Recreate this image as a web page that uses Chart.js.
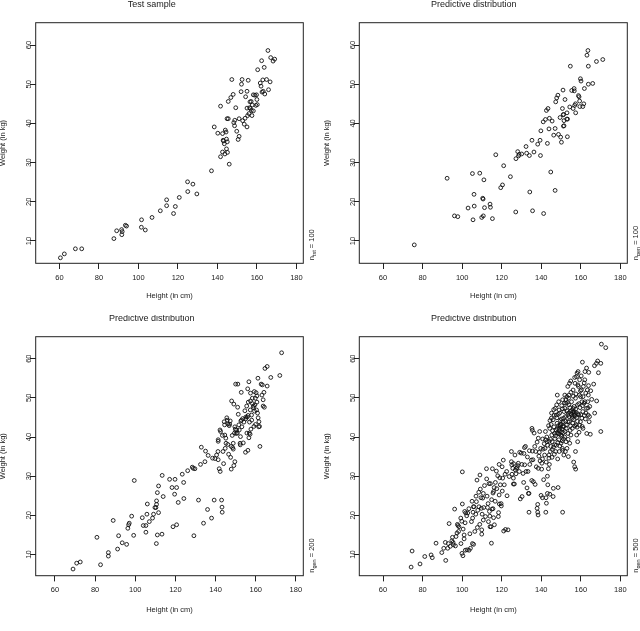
<!DOCTYPE html>
<html lang="en">
<head>
  <meta charset="UTF-8">
  <title>Height vs weight</title>
  <script src="https://cdn.jsdelivr.net/npm/chart.js"></script>
  <style>
    body { margin: 0; background: #fff; }
    #wrap { position: relative; width: 640px; height: 631px; }
    canvas { position: absolute; }
  </style>
</head>
<body>
<div id="wrap">
  <canvas id="p1" width="320" height="315" style="left:0;top:0"></canvas>
  <canvas id="p2" width="320" height="315" style="left:320px;top:0"></canvas>
  <canvas id="p3" width="320" height="316" style="left:0;top:315px"></canvas>
  <canvas id="p4" width="320" height="316" style="left:320px;top:315px"></canvas>
</div>
<script>
// tick labels
const xTicks = [60, 80, 100, 120, 140, 160, 180];
const yTicks = [10, 20, 30, 40, 50, 60];

// [height cm, weight kg]
const testSample = [[60.5,5.7],[62.5,6.7],[68.1,8.0],[71.3,8.0],[87.6,10.6],[89.0,12.6],[91.5,12.9],[91.6,11.6],[91.8,12.4],[93.4,14.0],[94.0,13.8],[101.6,15.4],[101.5,13.5],[103.5,12.8],[106.9,16.0],[111.1,17.7],[114.3,20.5],[114.3,19.0],[117.8,17.0],[118.7,18.8],[120.7,21.1],[124.9,25.1],[125.0,22.6],[127.6,24.5],[129.6,22.0],[137.0,27.9],[138.4,39.1],[140.2,37.5],[141.6,44.4],[141.6,31.5],[142.6,32.7],[142.9,35.7],[142.6,37.4],[143.1,35.5],[143.5,34.8],[143.8,32.2],[144.0,38.3],[144.6,33.5],[144.6,36.0],[145.0,35.3],[144.9,41.2],[145.5,41.2],[145.1,32.6],[144.4,37.8],[145.5,45.6],[146.0,29.6],[146.8,46.6],[147.3,51.2],[148.0,47.4],[148.3,40.2],[148.7,39.4],[148.8,40.8],[149.3,44.0],[149.8,38.0],[150.5,35.9],[151.0,36.7],[151.0,41.2],[152.0,48.1],[152.2,50.0],[152.5,51.2],[152.8,40.7],[153.6,39.8],[154.0,41.3],[154.3,46.8],[155.0,48.2],[155.0,39.1],[155.0,43.9],[155.3,42.0],[155.6,51.0],[156.0,42.5],[156.3,44.0],[156.7,43.8],[156.5,45.5],[157.1,45.6],[157.2,43.3],[157.5,42.0],[157.7,44.7],[158.2,43.2],[158.2,47.3],[159.0,47.2],[159.5,44.6],[159.8,47.3],[160.2,44.8],[160.0,46.1],[160.4,53.7],[161.7,50.3],[162.1,49.5],[162.4,56.0],[162.6,48.0],[163.0,51.1],[163.2,48.2],[163.7,54.3],[164.0,47.5],[164.9,51.2],[165.6,58.6],[165.9,48.6],[166.7,50.6],[167.0,56.8],[168.2,55.9],[169.0,56.4]];

const gen100 = [[75.8,9.0],[92.4,26.0],[96.1,16.4],[97.8,16.2],[103.0,18.4],[105.2,27.2],[105.5,15.4],[106.0,21.9],[106.1,18.9],[108.9,27.3],[109.9,16.0],[110.4,20.9],[110.6,20.7],[110.7,16.4],[111.0,25.6],[111.3,18.5],[114.1,19.4],[114.3,18.6],[115.3,15.7],[117.0,32.0],[119.5,23.6],[120.4,24.3],[121.0,29.2],[124.4,26.4],[127.1,17.4],[127.2,31.0],[128.1,32.8],[128.5,31.7],[128.8,32.1],[130.1,32.2],[132.3,34.1],[132.6,32.4],[134.0,31.8],[134.2,22.5],[135.3,35.7],[135.6,17.7],[136.3,32.7],[138.2,34.7],[139.4,35.7],[139.6,31.8],[139.8,38.1],[141.2,17.0],[141.0,40.4],[142.1,41.0],[142.6,43.3],[143.1,34.9],[143.4,43.8],[143.9,38.6],[144.1,41.3],[144.8,27.6],[145.5,40.6],[146.3,37.0],[147.0,22.9],[147.0,38.7],[147.3,45.5],[147.8,46.5],[148.4,47.2],[148.7,37.2],[149.5,41.5],[149.8,36.5],[150.2,35.2],[150.7,43.8],[151.0,48.5],[151.1,42.2],[151.3,42.3],[151.2,39.3],[151.5,39.4],[151.5,40.7],[152.0,46.1],[152.9,41.1],[153.3,41.1],[153.0,42.7],[153.2,36.6],[154.4,44.2],[154.7,54.6],[155.4,48.4],[156.1,43.8],[156.6,48.9],[156.7,48.3],[156.9,44.6],[157.3,45.0],[157.4,42.7],[158.8,47.1],[159.1,46.8],[159.5,44.3],[159.8,51.4],[160.1,50.8],[159.4,45.7],[161.0,44.3],[161.5,45.0],[161.8,48.9],[163.1,57.4],[163.6,58.6],[163.8,54.6],[163.8,50.0],[166.0,50.2],[167.9,55.8],[171.1,56.3]];

const gen200 = [[69.0,6.3],[70.8,7.8],[72.6,8.1],[82.7,7.4],[80.9,14.4],[86.6,10.5],[86.6,9.6],[89.0,18.7],[91.7,14.8],[91.2,11.4],[93.5,13.0],[95.7,12.6],[96.3,16.7],[96.7,17.6],[97.0,18.0],[98.2,19.8],[99.2,14.9],[99.5,28.9],[103.5,19.4],[104.0,17.4],[105.3,17.4],[105.3,15.7],[106.0,22.9],[105.8,20.3],[107.0,18.4],[108.6,19.3],[109.1,20.3],[109.8,22.0],[110.3,22.0],[110.6,23.7],[110.6,22.8],[110.5,12.8],[111.0,15.0],[111.0,25.8],[111.6,27.5],[111.6,20.7],[113.3,15.2],[113.4,30.2],[113.9,24.8],[117.1,29.2],[118.3,27.1],[118.8,17.1],[119.6,25.4],[119.8,29.2],[120.6,27.1],[120.6,17.6],[121.4,23.3],[123.4,30.5],[124.1,28.4],[124.2,24.3],[126.1,31.4],[128.4,32.3],[128.9,32.0],[129.7,31.9],[129.2,14.8],[131.5,23.9],[132.5,33.0],[132.9,37.4],[134.0,18.0],[134.7,33.7],[135.0,36.4],[136.0,21.5],[136.3,35.3],[138.0,19.3],[138.5,34.6],[139.3,23.9],[139.7,34.5],[140.5,35.4],[141.2,36.3],[141.3,39.3],[141.3,38.9],[141.3,34.2],[141.8,31.9],[142.3,31.2],[142.2,41.8],[142.5,41.4],[143.0,23.9],[143.2,22.1],[143.3,20.8],[143.7,36.3],[144.0,33.2],[144.3,43.9],[144.5,43.1],[144.6,40.5],[144.8,37.1],[145.1,39.7],[145.6,44.9],[145.8,44.3],[146.1,43.3],[146.1,38.1],[146.5,35.6],[147.0,43.3],[147.3,44.1],[147.5,34.8],[147.8,31.8],[148.0,49.2],[148.3,40.4],[148.5,37.3],[148.8,38.4],[148.8,36.9],[149.1,48.4],[149.6,42.6],[149.8,42.0],[149.1,32.7],[149.6,33.7],[150.0,53.5],[151.1,53.5],[150.5,41.8],[150.8,41.0],[151.0,47.6],[151.3,45.8],[151.6,43.1],[151.8,41.8],[152.2,38.4],[152.3,38.0],[152.4,40.1],[152.8,51.4],[152.6,44.1],[153.1,42.6],[153.8,38.5],[154.1,43.8],[154.6,46.7],[154.9,36.1],[155.1,45.1],[155.8,45.1],[156.0,52.3],[156.1,36.6],[155.6,41.0],[156.3,48.9],[156.6,39.8],[156.8,41.0],[156.6,54.1],[156.9,43.8],[157.3,46.9],[157.4,49.2],[157.4,51.2],[157.6,42.0],[157.9,45.6],[158.3,49.9],[158.4,48.5],[158.8,47.5],[159.3,51.6],[159.1,42.7],[159.6,48.2],[159.8,49.9],[159.9,43.2],[160.2,51.3],[160.6,48.9],[160.9,46.1],[161.1,55.0],[161.2,44.9],[161.6,43.9],[161.9,42.7],[162.1,37.6],[162.7,53.5],[163.1,50.7],[163.7,49.5],[163.7,47.9],[164.1,51.4],[164.6,57.5],[165.7,58.0],[165.7,53.0],[167.5,55.2],[172.0,55.7],[172.9,61.5],[150.3,40.9],[153.5,44.7],[155.0,44.6],[156.2,45.5],[158.9,47.9],[159.4,46.6],[160.4,46.9],[157.2,40.7],[161.5,42.6],[149.4,41.0],[147.8,37.6],[145.2,38.4],[143.4,40.4],[146.8,42.9],[152.9,44.3],[155.5,47.9],[158.0,44.3],[160.6,50.5],[163.3,53.3],[164.3,47.6]];

const gen500 = [[74.2,6.8],[74.7,10.9],[78.7,7.6],[81.1,9.5],[84.3,9.9],[84.9,9.2],[86.8,12.9],[89.7,10.5],[91.7,8.5],[91.5,13.1],[90.7,11.6],[93.0,12.8],[92.7,11.6],[94.0,12.1],[93.4,17.9],[95.1,14.4],[95.4,13.1],[95.6,12.5],[96.2,21.6],[96.6,12.2],[97.6,17.7],[97.9,17.4],[98.4,17.1],[97.4,15.5],[99.3,19.3],[99.4,12.8],[99.9,10.3],[100.4,9.7],[100.1,22.9],[100.1,31.1],[100.5,16.5],[101.0,15.0],[101.0,14.0],[101.3,21.0],[101.8,20.6],[101.6,11.1],[102.5,11.2],[102.3,19.9],[102.8,20.6],[103.5,11.1],[104.2,11.6],[104.7,18.4],[105.2,12.8],[105.8,12.6],[105.3,19.3],[105.5,20.8],[105.7,22.2],[106.0,22.2],[106.4,15.9],[106.9,20.3],[107.2,23.5],[107.9,21.3],[107.5,29.0],[108.4,25.9],[108.5,22.2],[108.9,17.7],[109.0,30.3],[109.5,24.5],[109.7,21.8],[109.9,16.3],[109.9,15.2],[110.1,20.3],[110.4,24.4],[110.7,25.6],[110.9,22.0],[110.7,18.8],[112.3,31.9],[112.4,29.3],[112.8,22.0],[113.1,23.0],[113.3,18.4],[113.6,28.1],[114.3,28.1],[114.0,19.8],[114.1,17.1],[114.6,17.1],[114.8,12.9],[115.1,21.6],[115.3,31.9],[115.6,25.7],[115.9,26.1],[115.6,21.7],[115.9,19.4],[116.3,17.6],[116.8,28.4],[117.3,31.3],[117.5,26.8],[118.3,19.7],[118.7,33.0],[118.7,25.2],[118.8,22.9],[119.0,29.6],[119.3,27.8],[119.7,23.0],[119.8,22.4],[120.3,26.2],[120.5,29.5],[120.8,34.1],[121.0,16.0],[121.3,27.8],[121.7,30.5],[121.9,16.4],[123.2,16.3],[122.7,25.0],[124.9,36.3],[124.9,33.7],[125.1,32.9],[125.2,30.5],[125.6,32.0],[125.9,28.0],[125.9,29.5],[126.7,35.4],[126.9,31.6],[127.4,32.0],[126.4,28.0],[127.8,32.2],[128.1,32.7],[128.4,33.3],[129.1,36.1],[129.4,24.2],[129.9,35.9],[130.3,24.8],[130.8,30.7],[131.1,28.4],[131.5,37.3],[132.0,37.6],[131.6,32.9],[132.3,31.2],[132.8,27.0],[133.3,31.2],[133.5,25.6],[133.8,25.6],[133.8,20.8],[134.2,33.0],[135.0,34.1],[135.2,28.9],[135.3,42.2],[135.5,41.7],[135.5,36.4],[135.8,34.2],[136.0,28.6],[136.4,41.0],[136.7,37.6],[136.9,27.9],[137.2,36.3],[137.5,32.4],[137.9,21.8],[138.2,20.8],[138.2,22.8],[138.4,20.1],[137.9,38.7],[138.5,39.7],[138.5,32.0],[139.0,36.1],[139.2,41.4],[139.7,37.1],[139.9,25.1],[140.6,24.5],[140.2,31.8],[140.6,34.4],[140.7,39.5],[141.2,29.1],[141.7,35.4],[141.9,37.1],[142.1,41.4],[142.3,20.8],[142.4,24.5],[142.6,23.1],[142.9,38.8],[143.1,25.6],[143.1,30.0],[143.3,27.8],[143.6,31.9],[143.9,35.4],[143.9,34.6],[144.3,42.2],[144.3,25.4],[144.6,36.3],[144.8,37.6],[145.1,44.8],[145.3,40.5],[146.0,24.8],[145.5,38.8],[146.0,44.4],[146.1,26.9],[146.5,45.6],[146.7,40.9],[146.8,38.0],[147.1,47.3],[147.3,36.3],[147.5,41.8],[147.6,45.6],[147.8,48.2],[148.1,50.7],[148.0,43.5],[148.3,34.4],[148.5,27.1],[148.6,40.9],[148.8,49.0],[148.9,39.3],[149.1,36.3],[149.3,42.2],[149.3,46.1],[149.6,43.1],[149.8,40.5],[150.0,38.4],[150.2,44.6],[150.3,48.0],[150.5,42.0],[150.7,37.1],[150.8,20.8],[150.8,49.5],[151.0,43.9],[151.2,39.5],[151.4,35.4],[151.5,46.5],[151.9,50.7],[152.0,41.4],[152.2,45.2],[152.4,48.6],[152.5,38.8],[152.7,43.1],[152.9,50.3],[153.0,37.1],[153.4,52.9],[153.4,45.6],[153.5,40.9],[153.7,35.0],[154.0,48.2],[154.0,50.7],[154.2,43.9],[154.4,38.4],[154.7,46.5],[154.9,54.3],[155.0,40.5],[155.3,49.0],[155.6,44.8],[155.7,42.2],[156.1,52.0],[156.2,47.3],[156.4,33.6],[156.6,46.5],[156.7,45.6],[156.9,32.4],[157.1,53.7],[157.3,49.9],[157.3,36.3],[157.4,31.8],[157.6,43.1],[157.8,55.4],[157.9,40.5],[158.1,56.3],[158.3,48.2],[158.4,38.8],[158.6,56.7],[158.8,52.9],[158.9,45.6],[159.1,41.2],[159.3,50.7],[159.4,54.6],[159.8,43.9],[159.9,50.3],[160.3,52.0],[160.5,44.8],[160.6,49.0],[160.8,59.1],[161.0,46.5],[161.1,42.2],[161.3,52.9],[161.6,48.6],[162.0,54.6],[162.1,56.7],[162.1,49.0],[162.3,44.6],[162.5,51.2],[162.8,47.3],[163.0,40.9],[163.3,52.0],[163.5,49.0],[163.7,45.6],[163.8,50.7],[164.0,56.5],[164.2,43.9],[164.5,47.8],[164.8,40.7],[165.0,51.8],[166.5,53.5],[167.0,46.1],[166.9,58.2],[167.9,58.8],[168.0,49.2],[168.5,59.4],[168.9,56.4],[170.1,58.8],[170.1,41.4],[170.4,63.7],[172.6,62.8],[143.2,37.9],[144.0,38.9],[144.7,39.4],[145.6,36.8],[146.2,37.4],[146.9,39.6],[147.2,40.3],[147.9,41.0],[148.2,42.1],[148.7,42.9],[149.0,40.8],[149.2,41.7],[149.5,42.9],[149.7,44.2],[150.0,43.3],[150.2,41.3],[150.4,40.2],[150.6,39.0],[150.9,42.6],[151.1,41.1],[151.3,44.8],[151.6,42.7],[151.8,40.0],[152.0,47.3],[152.3,44.0],[152.6,42.2],[152.9,46.7],[153.2,48.8],[153.5,43.9],[153.8,46.1],[154.1,45.2],[154.5,47.5],[154.8,42.8],[155.1,45.9],[155.4,46.8],[155.7,45.3],[156.0,46.4],[156.3,44.4],[156.6,47.8],[156.8,46.0],[157.1,45.4],[157.4,47.1],[157.7,46.2],[158.0,45.0],[158.3,44.0],[158.6,45.9],[159.0,48.5],[159.6,47.5],[160.0,45.7],[160.9,48.0],[146.4,42.6],[145.7,41.6],[145.0,43.2],[144.4,44.2],[143.7,42.9],[142.8,40.0],[142.2,39.3],[141.5,38.3],[140.9,36.9],[140.3,33.3],[139.4,33.9],[138.8,35.1],[142.5,33.6],[144.1,33.0],[145.4,34.8],[146.6,35.6],[147.6,37.9],[148.4,38.6],[149.4,37.7],[150.8,36.6],[152.2,36.3],[153.6,39.4],[154.6,41.7],[155.9,43.6],[157.0,42.8],[158.1,42.5],[159.4,43.0],[160.7,42.7],[161.8,45.5],[162.6,46.1],[163.6,47.4],[164.4,45.2],[165.5,49.6],[161.1,50.3],[159.8,51.8],[158.5,53.3],[157.5,51.0],[156.2,50.4],[155.0,51.4],[153.8,49.9],[152.5,49.5],[150.7,47.2],[149.0,46.9],[147.9,44.9],[146.3,47.0],[145.2,46.1],[148.6,45.8],[151.7,48.7],[154.3,53.7],[156.9,55.2],[160.2,55.6],[161.7,53.8],[163.9,53.1],[162.9,57.6],[122.5,31.2],[123.8,29.9],[126.0,33.2],[127.2,30.6],[128.9,31.2],[130.2,33.0],[131.2,35.8],[133.0,34.9],[134.0,36.5],[120.2,32.4],[118.0,30.1],[116.2,27.1],[114.9,24.0],[112.6,24.9],[111.3,27.6],[109.2,26.7],[107.0,24.9],[105.0,23.6],[103.4,21.7],[101.5,18.1],[99.8,18.5],[98.2,15.9],[96.9,14.6],[94.8,13.5],[111.8,19.7],[113.8,21.0],[116.7,23.6],[118.4,20.7],[103.9,15.3],[107.7,16.9]];

const panels = [
  { id: 'p1', title: 'Test sample', pts: testSample, sub: 'tst', n: 100, xlim: [48, 183.5], ylim: [4.3, 65.7], box: [35.7, 303.3, 22.7, 263.3], tTop: -0.7, xTitlePad: 14.8, yTitlePad: -1.8 },
  { id: 'p2', title: 'Predictive distribution', pts: gen100, sub: 'gen', n: 100, xlim: [48, 183.5], ylim: [4.3, 65.7], box: [39.3, 307.3, 22.7, 263.3], tTop: -0.7, xTitlePad: 14.8, yTitlePad: 2.2 },
  { id: 'p3', title: 'Predictive distribution', pts: gen200, sub: 'gen', n: 200, xlim: [50.4, 183.7], ylim: [4.6, 65.6], box: [35.7, 303.3, 21.7, 260.7], tTop: -2.1, xTitlePad: 17, yTitlePad: -1.8 },
  { id: 'p4', title: 'Predictive distribution', pts: gen500, sub: 'gen', n: 500, xlim: [48, 183.5], ylim: [4.6, 65.6], box: [39.3, 307.3, 21.7, 260.7], tTop: -2.1, xTitlePad: 17, yTitlePad: 2.2 }
];

const FONT = "'Liberation Sans', Arial, sans-serif";
const ink = '#222';

// box around the plot, rotated y tick labels and the n label on the right
const rFrame = {
  id: 'rFrame',
  afterDraw(chart, args, opts) {
    const { ctx, chartArea: a, scales } = chart;
    ctx.save();
    ctx.strokeStyle = ink;
    ctx.lineWidth = 1;
    ctx.strokeRect(a.left, a.top, a.right - a.left, a.bottom - a.top);
    ctx.fillStyle = ink;
    ctx.font = '7.5px ' + FONT;
    ctx.textAlign = 'center';
    ctx.textBaseline = 'middle';
    yTicks.forEach(v => {
      ctx.save();
      ctx.translate(a.left - 6.4, scales.y.getPixelForValue(v));
      ctx.rotate(-Math.PI / 2);
      ctx.fillText(String(v), 0, 0);
      ctx.restore();
    });
    // n_sub = N, reads bottom to top
    ctx.translate(a.right + 8.5, a.bottom - 3);
    ctx.rotate(-Math.PI / 2);
    ctx.textAlign = 'left';
    ctx.textBaseline = 'middle';
    ctx.font = '7.5px ' + FONT;
    ctx.fillText('n', 0, 0);
    let w = ctx.measureText('n').width;
    ctx.font = '5.5px ' + FONT;
    ctx.fillText(opts.sub, w, 2.2);
    w += ctx.measureText(opts.sub).width;
    ctx.font = '7.5px ' + FONT;
    ctx.fillText(' = ' + opts.n, w, 0);
    ctx.restore();
  }
};

panels.forEach(p => {
  const canvas = document.getElementById(p.id);
  const [L, R, T, B] = p.box;
  new Chart(canvas, {
    type: 'scatter',
    data: {
      datasets: [{
        data: p.pts.map(d => ({ x: d[0], y: d[1] })),
        pointStyle: 'circle',
        pointRadius: 1.9,
        borderWidth: 0.9,
        borderColor: '#111',
        backgroundColor: 'rgba(0,0,0,0)'
      }]
    },
    options: {
      responsive: false,
      animation: false,
      layout: { padding: { left: 0, right: canvas.width - R, top: 0, bottom: 0 } },
      plugins: {
        legend: { display: false },
        tooltip: { enabled: false },
        title: {
          display: true, text: p.title, color: ink,
          font: { family: FONT, size: 9, weight: 'normal' },
          padding: { top: p.tTop, bottom: T - p.tTop - 10.8 }
        },
        rFrame: { sub: p.sub, n: p.n }
      },
      scales: {
        x: {
          type: 'linear', min: p.xlim[0], max: p.xlim[1],
          afterBuildTicks: s => { s.ticks = xTicks.map(v => ({ value: v })); },
          afterFit: s => { s.height = canvas.height - B; },
          grid: { drawOnChartArea: false, drawTicks: true, tickLength: 5.7, color: ink, lineWidth: 1 },
          border: { display: false },
          ticks: { color: ink, font: { family: FONT, size: 7.5 }, padding: 4, maxRotation: 0, autoSkip: false },
          title: { display: true, text: 'Height (in cm)', color: ink, font: { family: FONT, size: 7.5 }, padding: { top: 0, bottom: p.xTitlePad } }
        },
        y: {
          type: 'linear', min: p.ylim[0], max: p.ylim[1],
          afterBuildTicks: s => { s.ticks = yTicks.map(v => ({ value: v })); },
          afterFit: s => { s.width = L; },
          grid: { drawOnChartArea: false, drawTicks: true, tickLength: 5.7, color: ink, lineWidth: 1 },
          border: { display: false },
          ticks: { display: false },
          title: { display: true, text: 'Weight (in kg)', color: ink, font: { family: FONT, size: 7.5 }, padding: { top: p.yTitlePad, bottom: 0 } }
        }
      }
    },
    plugins: [rFrame]
  });
});
</script>
</body>
</html>
